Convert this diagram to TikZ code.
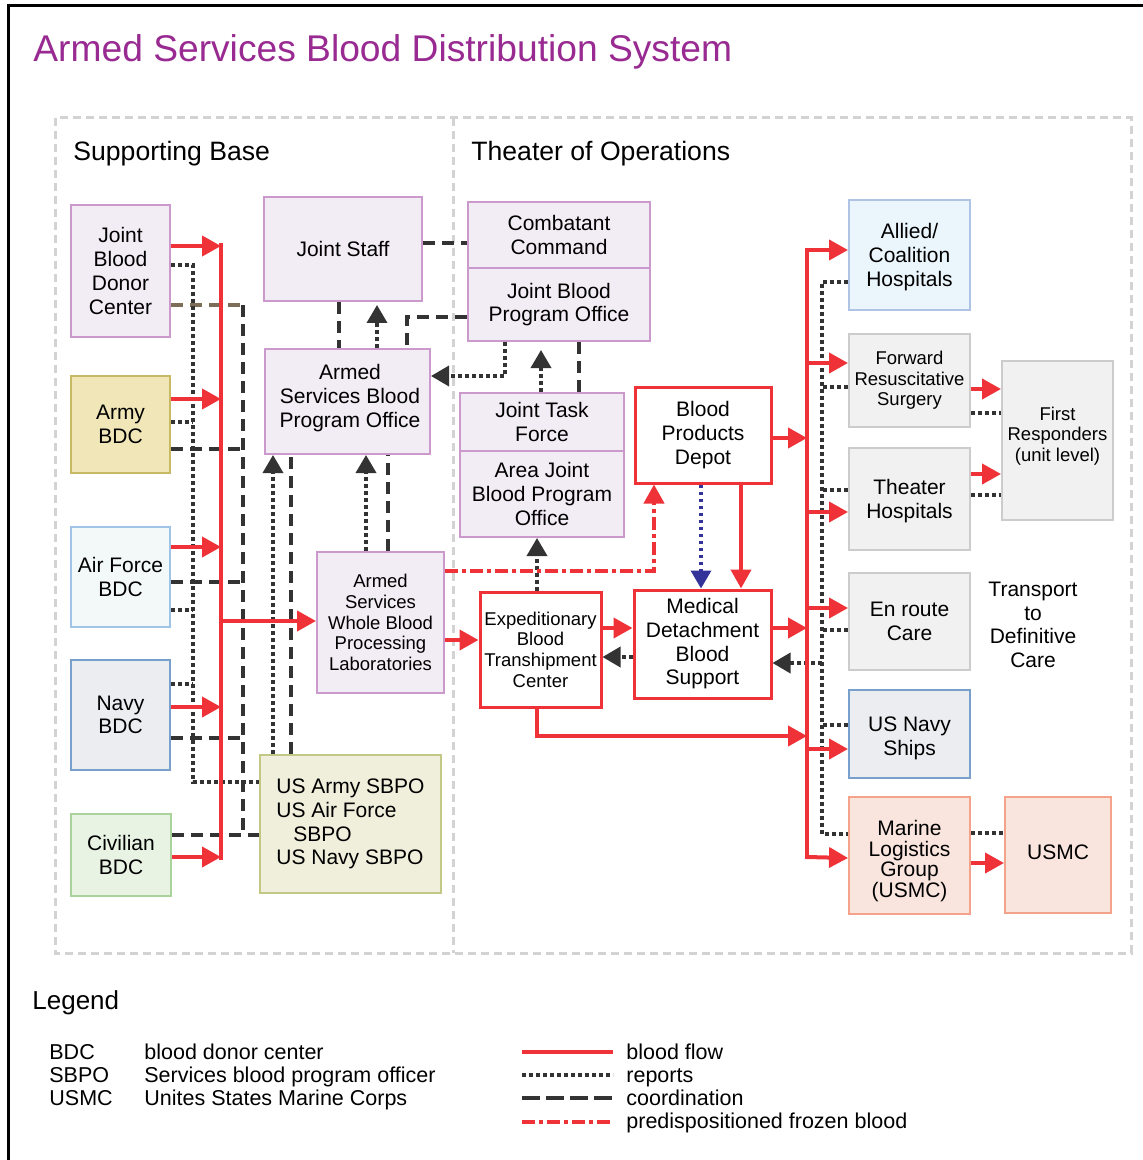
\documentclass[tikz,border=0pt]{standalone}
\usepackage{fontspec}
\setmainfont{Liberation Sans}
\usetikzlibrary{arrows.meta}
\definecolor{cred}{RGB}{238,50,56}
\definecolor{cdark}{RGB}{51,51,51}
\definecolor{cblue}{RGB}{51,51,153}
\definecolor{cbrown}{RGB}{125,110,90}
\definecolor{ctitle}{RGB}{152,42,145}
\definecolor{cframe}{RGB}{211,211,211}
\definecolor{lavF}{RGB}{242,236,245}
\definecolor{lavD}{RGB}{204,153,204}
\definecolor{armyF}{RGB}{240,230,184}
\definecolor{armyD}{RGB}{200,185,100}
\definecolor{afF}{RGB}{243,249,248}
\definecolor{afD}{RGB}{160,196,230}
\definecolor{navyF}{RGB}{236,237,240}
\definecolor{navyD}{RGB}{120,160,205}
\definecolor{civF}{RGB}{232,243,228}
\definecolor{civD}{RGB}{170,210,155}
\definecolor{sbF}{RGB}{239,239,220}
\definecolor{sbD}{RGB}{195,200,135}
\definecolor{alF}{RGB}{235,245,252}
\definecolor{alD}{RGB}{175,195,228}
\definecolor{grF}{RGB}{241,241,241}
\definecolor{grD}{RGB}{204,204,204}
\definecolor{mlF}{RGB}{249,229,222}
\definecolor{mlD}{RGB}{244,162,138}
\newcommand\myN{\fontsize{10.5}{11.85}\selectfont}
\newcommand\myS{\fontsize{9.25}{10.35}\selectfont}
\newcommand\myH{\fontsize{13.3}{15}\selectfont}
\newcommand\myL{\fontsize{10.75}{11.5}\selectfont}
\begin{document}
\begin{tikzpicture}[x=0.5pt,y=-0.5pt,
  box/.style={draw, line width=1pt, align=center, inner sep=0pt, font=\myN, text=black},
  sz/.style 2 args={minimum width=#1*0.5pt, minimum height=#2*0.5pt},
  lav/.style={fill=lavF, draw=lavD},
  armyc/.style={fill=armyF, draw=armyD},
  afc/.style={fill=afF, draw=afD},
  navyc/.style={fill=navyF, draw=navyD},
  civc/.style={fill=civF, draw=civD},
  sbc/.style={fill=sbF, draw=sbD},
  alc/.style={fill=alF, draw=alD},
  grc/.style={fill=grF, draw=grD},
  mlc/.style={fill=mlF, draw=mlD},
  rbox/.style={fill=white, draw=cred, line width=1.5pt},
  txt/.style={align=center, inner sep=0pt, text=black},
  flow/.style={draw=cred, line width=2pt},
  ftip/.style={-{Triangle[length=9.5pt,width=10pt]}},
  dtip/.style={-{Triangle[length=9pt,width=10pt]}},
  rep/.style={draw=cdark, line width=1.8pt, dash pattern=on 1.8pt off 1.7pt},
  coo/.style={draw=cdark, line width=2pt, dash pattern=on 6pt off 3.5pt},
  frz/.style={draw=cred, line width=2pt, dash pattern=on 6.5pt off 2pt on 2pt off 2pt},
  lbl/.style={inner sep=0pt, anchor=base west, text=black}
]
\useasboundingbox (0,0) rectangle (1143,1160);
\fill[white] (0,0) rectangle (1143,1160);
% outer black frame
\draw[line width=1.5pt, black] (8,1165) -- (8,6) -- (1150,6);
% title
\node[lbl, text=ctitle, font=\fontsize{18.6}{20}\selectfont] (title) at (33,62) {Armed Services Blood Distribution System};
% dashed region frames
\draw[cframe, line width=1.5pt, dash pattern=on 4pt off 2.5pt] (55,118) rectangle (1131,953);
\draw[cframe, line width=1.5pt, dash pattern=on 4pt off 2.5pt] (453,118) -- (453,953);
\node[lbl, font=\myH] (hsb) at (73,161) {Supporting Base};
\node[lbl, font=\myH] (hto) at (471,161) {Theater of Operations};

% ---------- nodes ----------
\node[box, lav, sz={99}{132}] (jbdc) at (120.5,271) {Joint\\Blood\\Donor\\Center};
\node[box, armyc, sz={99}{97}] (army) at (120.5,424.5) {Army\\BDC};
\node[box, afc, sz={99}{100}] (af) at (120.5,577) {Air Force\\BDC};
\node[box, navyc, sz={99}{110}] (navy) at (120.5,715) {Navy\\BDC};
\node[box, civc, sz={100}{82}] (civ) at (121,855) {Civilian\\BDC};
\node[box, lav, sz={158}{104}] (js) at (343,249) {Joint Staff};
\node[box, lav, sz={165}{105}] (asbpo) at (347.5,401.5) {};
\node[txt, font=\myN] (asbpotxt) at (350,398) {Armed\\Services Blood\\Program Office};
\node[box, lav, sz={127}{141}, font=\myS] (aswbpl) at (380.5,622.5) {Armed\\Services\\Whole Blood\\Processing\\Laboratories};
\node[box, sbc, sz={181}{138}, align=left] (sbpo) at (350.5,824) {US Army SBPO\\US Air Force\\\hspace*{8.5pt}SBPO\\US Navy SBPO};
\node[box, lav, sz={182}{66}] (cc) at (559,235) {Combatant\\Command};
\node[box, lav, sz={182}{73}] (jbpo) at (559,304.5) {Joint Blood\\Program Office};
\node[box, lav, sz={164}{58}] (jtf) at (542,422) {Joint Task\\Force};
\node[box, lav, sz={164}{86}] (ajbpo) at (542,494) {Area Joint\\Blood Program\\Office};
\node[box, rbox, sz={136}{96}] (bpd) at (703,435) {Blood\\Products\\Depot};
\node[box, rbox, sz={121}{115}, font=\myS] (ebtc) at (540.5,649.5) {Expeditionary\\Blood\\Transhipment\\Center};
\node[box, rbox, sz={137}{108}] (mdbs) at (702.5,644) {Medical\\Detachment\\Blood\\Support};
\node[box, alc, sz={121}{110}] (allied) at (909.5,255) {};
\node[txt, font=\myN] (alliedtxt) at (909.5,257) {Allied/\\Coalition\\Hospitals};
\node[box, grc, sz={121}{93}, font=\myS] (frs) at (909.5,380.5) {Forward\\Resuscitative\\Surgery};
\node[box, grc, sz={121}{102}] (th) at (909.5,499) {};
\node[txt, font=\myN] (thtxt) at (909.5,501) {Theater\\Hospitals};
\node[box, grc, sz={111}{159}] (fr) at (1057.5,440.5) {};
\node[txt, font=\myS] (frtxt) at (1057.5,436) {First\\Responders\\(unit level)};
\node[box, grc, sz={121}{97}] (erc) at (909.5,621.5) {En route\\Care};
\node[box, navyc, sz={121}{88}] (usns) at (909.5,734) {};
\node[txt, font=\myN] (usnstxt) at (909.5,738) {US Navy\\Ships};
\node[box, mlc, sz={121}{117}] (mlg) at (909.5,855.5) {};
\node[txt, font=\fontsize{10.5}{10.35}\selectfont] (mlgtxt) at (909.5,861) {Marine\\Logistics\\Group\\(USMC)};
\node[box, mlc, sz={106}{116}] (usmc) at (1058,855) {};
\node[txt, font=\myN] (usmctxt) at (1058,852) {USMC};
\node[txt, font=\myN] (tdc) at (1033,625) {Transport\\to\\Definitive\\Care};

% ---------- bus coordinates ----------
\coordinate (lbusT) at (221,243);
\coordinate (lbusB) at (221,860);
\coordinate (lrepT) at (193,265);
\coordinate (lrepB) at (193,782);
\coordinate (lcooT) at (243,305);
\coordinate (lcooB) at (243,835);
\coordinate (rbusT) at (807,250);
\coordinate (rbusB) at (807,857);
\coordinate (rrepT) at (822,282);
\coordinate (rrepB) at (822,834);

% ---------- coordination (dashed) ----------
\draw[coo, draw=cbrown] (jbdc.east |- lcooT) -- (lcooT);
\draw[coo] (lcooT) -- (lcooB);
\draw[coo] (army.east |- 0,449) -- (0,449 -| lcooT);
\draw[coo] (af.east |- 0,582) -- (0,582 -| lcooT);
\draw[coo] (navy.east |- 0,738) -- (0,738 -| lcooT);
\draw[coo] (civ.east |- lcooB) -- (sbpo.west |- lcooB);
\draw[coo] (sbpo.north -| 291,0) -- (asbpo.south -| 291,0);
\draw[coo] (aswbpl.north -| 388,0) -- (asbpo.south -| 388,0);
\draw[coo] (js.south -| 339,0) -- (asbpo.north -| 339,0);
\draw[coo] (jbpo.west |- 0,317) -| (asbpo.north -| 407,0);
\draw[coo] (js.east |- 0,243) -- (cc.west |- 0,243);
\draw[coo] (jbpo.south -| 579,0) -- (jtf.north -| 579,0);

% ---------- reports (dotted) ----------
\draw[rep] (jbdc.east |- lrepT) -- (lrepT) -- (lrepB) -- (sbpo.west |- lrepB);
\draw[rep] (army.east |- 0,422) -- (0,422 -| lrepT);
\draw[rep] (af.east |- 0,610) -- (0,610 -| lrepT);
\draw[rep] (navy.east |- 0,684) -- (0,684 -| lrepT);
\draw[rep, dtip] (sbpo.north -| 273,0) -- (asbpo.south -| 273,0);
\draw[rep, dtip] (aswbpl.north -| 366,0) -- (asbpo.south -| 366,0);
\draw[rep, dtip, shorten >=1.5pt] (asbpo.north -| 377,0) -- (js.south -| 377,0);
\draw[rep, dtip] (jbpo.south -| 505,0) |- (asbpo.east |- 0,376);
\draw[rep, dtip, shorten >=4pt] (jtf.north -| 541,0) -- (jbpo.south -| 541,0);
\draw[rep, dtip] (ebtc.north -| 537,0) -- (ajbpo.south -| 537,0);
\draw[rep, draw=cblue, dtip] (bpd.south -| 701,0) -- (mdbs.north -| 701,0);
\draw[rep, dtip] (mdbs.west |- 0,657) -- (ebtc.east |- 0,657);
\draw[rep] (allied.west |- rrepT) -- (rrepT) -- (rrepB) -- (mlg.west |- rrepB);
\draw[rep] (frs.west |- 0,387) -- (0,387 -| rrepT);
\draw[rep] (th.west |- 0,490) -- (0,490 -| rrepT);
\draw[rep] (erc.west |- 0,630) -- (0,630 -| rrepT);
\draw[rep] (usns.west |- 0,725) -- (0,725 -| rrepT);
\draw[rep, dtip] (0,663 -| rrepT) -- (mdbs.east |- 0,663);
\draw[rep] (frs.east |- 0,413) -- (fr.west |- 0,413);
\draw[rep] (th.east |- 0,495) -- (fr.west |- 0,495);
\draw[rep] (mlg.east |- 0,833) -- (usmc.west |- 0,833);

% ---------- predispositioned frozen blood ----------
\draw[frz, ftip] (aswbpl.east |- 0,571) -| (bpd.south -| 654,0);

% ---------- blood flow (red) ----------
\draw[flow] (lbusT) -- (lbusB);
\draw[flow, ftip] (jbdc.east |- 0,246) -- (0,246 -| lbusT);
\draw[flow, ftip] (army.east |- 0,399) -- (0,399 -| lbusT);
\draw[flow, ftip] (af.east |- 0,547) -- (0,547 -| lbusT);
\draw[flow, ftip] (navy.east |- 0,707) -- (0,707 -| lbusT);
\draw[flow, ftip] (civ.east |- 0,857) -- (0,857 -| lbusT);
\draw[flow, ftip] (0,621 -| lbusT) -- (aswbpl.west |- 0,621);
\draw[flow, ftip] (aswbpl.east |- 0,640) -- (ebtc.west |- 0,640);
\draw[flow, ftip] (ebtc.east |- 0,628) -- (mdbs.west |- 0,628);
\draw[flow, ftip] (ebtc.south -| 537,0) |- (0,736 -| rbusT);
\draw[flow, ftip] (mdbs.east |- 0,628) -- (0,628 -| rbusT);
\draw[flow, ftip] (bpd.east |- 0,438) -- (0,438 -| rbusT);
\draw[flow, ftip] (bpd.south -| 741,0) -- (mdbs.north -| 741,0);
\draw[flow, line cap=rect] (rbusT) -- (rbusB);
\draw[flow, ftip] (rbusT) -- (allied.west |- rbusT);
\draw[flow, ftip] (rbusB) -- (mlg.west |- 0,858);
\draw[flow, ftip] (0,363 -| rbusT) -- (frs.west |- 0,363);
\draw[flow, ftip] (0,512 -| rbusT) -- (th.west |- 0,512);
\draw[flow, ftip] (0,608 -| rbusT) -- (erc.west |- 0,608);
\draw[flow, ftip] (0,749 -| rbusT) -- (usns.west |- 0,749);
\draw[flow, ftip] (frs.east |- 0,389) -- (fr.west |- 0,389);
\draw[flow, ftip] (th.east |- 0,474) -- (fr.west |- 0,474);
\draw[flow, ftip] (mlg.east |- 0,863) -- (usmc.west |- 0,863);

% ---------- legend ----------
\node[lbl, font=\fontsize{13}{15}\selectfont] (leg) at (32,1009) {Legend};
\node[lbl, font=\myL] (l1a) at (49,1059) {BDC};
\node[lbl, font=\myL] (l2a) at (49,1082) {SBPO};
\node[lbl, font=\myL] (l3a) at (49,1105) {USMC};
\node[lbl, font=\myL] (l1b) at (144,1059) {blood donor center};
\node[lbl, font=\myL] (l2b) at (144,1082) {Services blood program officer};
\node[lbl, font=\myL] (l3b) at (144,1105) {Unites States Marine Corps};
\draw[flow] (522,1052) -- (613,1052);
\draw[rep] (522,1075) -- (613,1075);
\draw[coo, dash pattern=on 9pt off 3pt] (522,1098) -- (613,1098);
\draw[frz] (522,1122) -- (613,1122);
\node[lbl, font=\myL] (k1) at (626,1059) {blood flow};
\node[lbl, font=\myL] (k2) at (626,1082) {reports};
\node[lbl, font=\myL] (k3) at (626,1105) {coordination};
\node[lbl, font=\myL] (k4) at (626,1128) {predispositioned frozen blood};
\end{tikzpicture}
\end{document}
